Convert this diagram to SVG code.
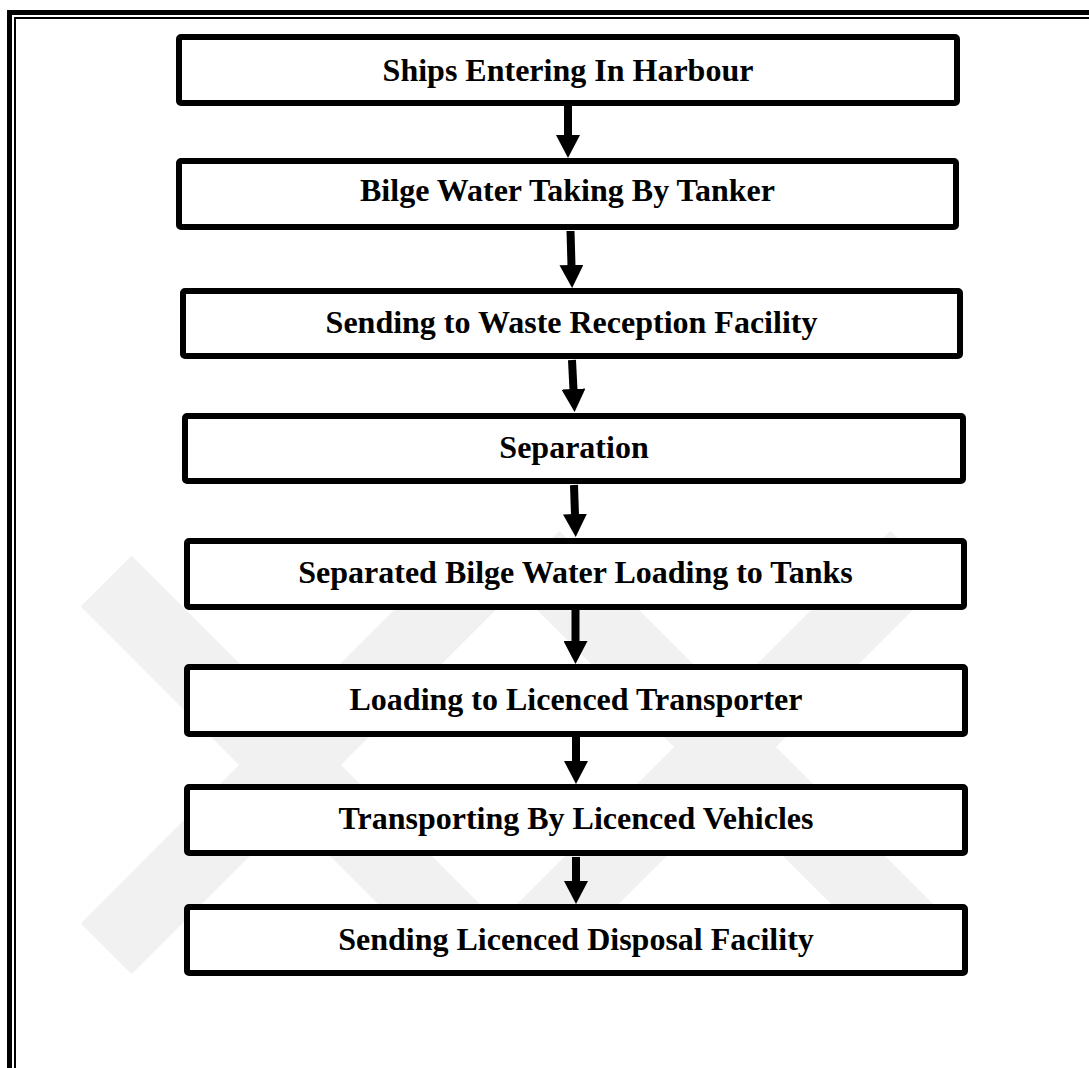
<svg xmlns="http://www.w3.org/2000/svg" width="1089" height="1068" viewBox="0 0 1089 1068">
  <defs>
    <style>
      .frame { fill: none; stroke: #000; stroke-linejoin: miter; }
      .box rect { fill: #fff; stroke: #000; stroke-width: 6; }
      .box text { font-family: "Liberation Serif", "Times New Roman", serif; font-weight: bold; font-size: 32px; fill: #000; text-anchor: middle; }
      .flow line { stroke: #000; stroke-width: 8; marker-end: url(#head); }
      .mark { fill: #f1f1f1; }
    </style>
    <marker id="head" markerUnits="userSpaceOnUse" markerWidth="23" markerHeight="24" viewBox="0 0 23 24" refX="1" refY="12" orient="auto">
      <path d="M0,0 L23,12 L0,24 Z" fill="#000"/>
    </marker>
  </defs>

  <rect width="1089" height="1068" fill="#fff"/>

  <!-- faint background emblem -->
  <g id="emblem">
    <rect class="mark" x="-260" y="-36" width="520" height="72" transform="translate(290,765) rotate(45)"/>
    <rect class="mark" x="-260" y="-36" width="520" height="72" transform="translate(290,765) rotate(-45)"/>
    <rect class="mark" x="-270" y="-36" width="540" height="72" transform="translate(725,747) rotate(45)"/>
    <rect class="mark" x="-270" y="-36" width="540" height="72" transform="translate(725,747) rotate(-45)"/>
  </g>

  <!-- page frame: thick outer rule and thin inner rule -->
  <g id="frame">
    <path class="frame" stroke-width="5" d="M9.5,1068 V12.5 H1089"/>
    <path class="frame" stroke-width="2" d="M15,1068 V18 H1089"/>
  </g>

  <!-- connectors -->
  <g id="connectors" class="flow">
    <line x1="568" y1="105" x2="568" y2="136"/>
    <line x1="570.5" y1="231" x2="571.5" y2="266"/>
    <line x1="572" y1="360" x2="573.5" y2="390"/>
    <line x1="574" y1="485" x2="575" y2="515"/>
    <line x1="575.5" y1="610" x2="575.5" y2="642"/>
    <line x1="576" y1="737" x2="576" y2="762"/>
    <line x1="576" y1="857" x2="576" y2="882"/>
  </g>

  <!-- process steps -->
  <g id="step1" class="box">
    <rect x="179" y="37" width="778" height="66" rx="2"/>
    <text x="568" y="80.5">Ships Entering In Harbour</text>
  </g>
  <g id="step2" class="box">
    <rect x="179" y="161" width="777" height="66" rx="2"/>
    <text x="567.5" y="201">Bilge Water Taking By Tanker</text>
  </g>
  <g id="step3" class="box">
    <rect x="183" y="291" width="777" height="65" rx="2"/>
    <text x="571.5" y="333">Sending to Waste Reception Facility</text>
  </g>
  <g id="step4" class="box">
    <rect x="185" y="416" width="778" height="65" rx="2"/>
    <text x="574" y="458">Separation</text>
  </g>
  <g id="step5" class="box">
    <rect x="187" y="541" width="777" height="66" rx="2"/>
    <text x="575.5" y="582.5">Separated Bilge Water Loading to Tanks</text>
  </g>
  <g id="step6" class="box">
    <rect x="187" y="667" width="778" height="67" rx="2"/>
    <text x="576" y="709.5">Loading to Licenced Transporter</text>
  </g>
  <g id="step7" class="box">
    <rect x="187" y="787" width="778" height="66" rx="2"/>
    <text x="576" y="828.5">Transporting By Licenced Vehicles</text>
  </g>
  <g id="step8" class="box">
    <rect x="187" y="907" width="778" height="66" rx="2"/>
    <text x="576" y="950">Sending Licenced Disposal Facility</text>
  </g>
</svg>
